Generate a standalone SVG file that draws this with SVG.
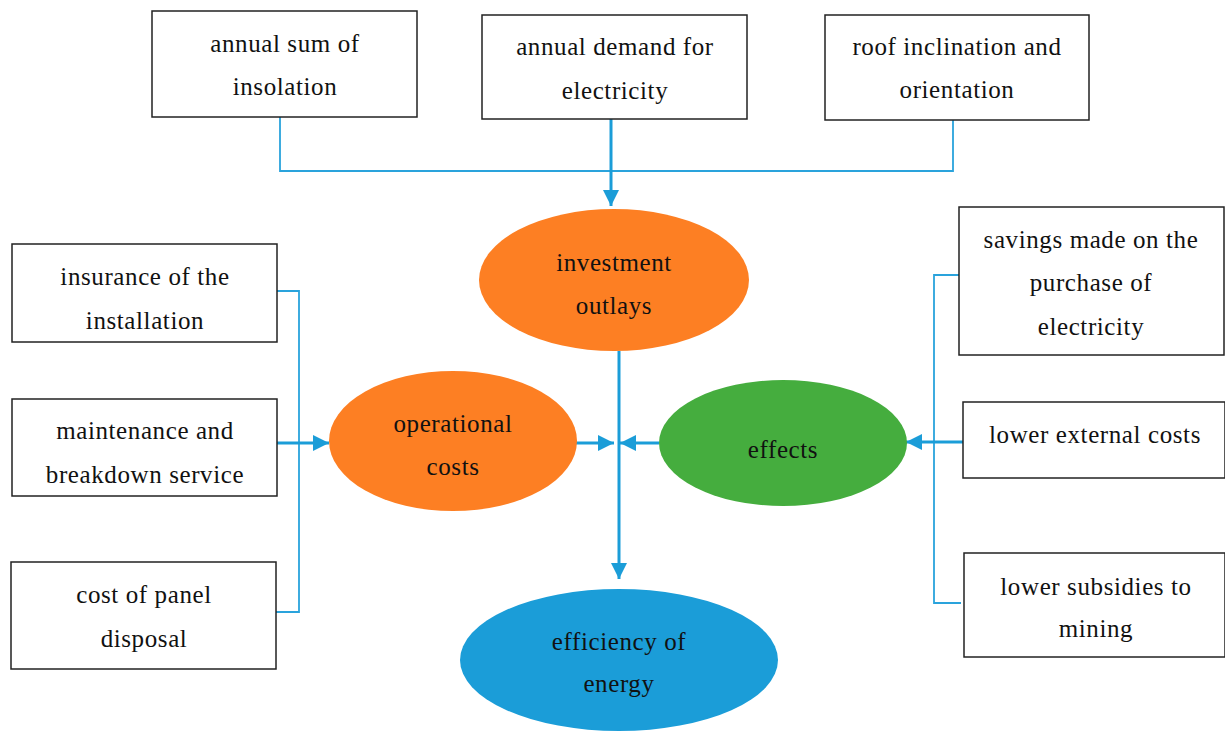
<svg xmlns="http://www.w3.org/2000/svg" width="1225" height="731" viewBox="0 0 1225 731">
<style>
.box{fill:#fff;stroke:#222;stroke-width:1.5}
.t{font-family:"Liberation Serif","DejaVu Serif",serif;font-size:25px;letter-spacing:0.6px;fill:#111;text-anchor:middle}
.thin{fill:none;stroke:#2aa3dc;stroke-width:1.8}
.thick{fill:none;stroke:#1b9dd8;stroke-width:3}
</style>
<defs>
<marker id="ah" markerUnits="userSpaceOnUse" markerWidth="18" markerHeight="18" refX="16" refY="9" orient="auto">
<path d="M0,1 L16,9 L0,17 Z" fill="#1b9dd8"/>
</marker>
</defs>
<rect width="1225" height="731" fill="#fff"/>
<g id="connectors">
<polyline class="thin" points="280,117 280,171 953,171 953,120"/>
<line class="thick" x1="611" y1="119" x2="611" y2="206" marker-end="url(#ah)"/>
<polyline class="thin" points="277,291 299,291 299,612 276,612"/>
<line class="thick" x1="277" y1="443" x2="329" y2="443" marker-end="url(#ah)"/>
<line class="thick" x1="619" y1="351" x2="619" y2="579" marker-end="url(#ah)"/>
<line class="thick" x1="573" y1="443" x2="614" y2="443" marker-end="url(#ah)"/>
<line class="thick" x1="659" y1="443" x2="620" y2="443" marker-end="url(#ah)"/>
<polyline class="thin" points="960,275 934,275 934,603 961,603"/>
<line class="thick" x1="963" y1="442" x2="906" y2="442" marker-end="url(#ah)"/>
</g>
<g id="n-insolation"><rect class="box" x="152" y="11" width="265" height="106"/><text class="t" x="285" y="52">annual sum of</text><text class="t" x="285" y="95">insolation</text></g>
<g id="n-demand"><rect class="box" x="482" y="15" width="265" height="104"/><text class="t" x="615" y="55">annual demand for</text><text class="t" x="615" y="99">electricity</text></g>
<g id="n-roof"><rect class="box" x="825" y="15" width="264" height="105"/><text class="t" x="957" y="55">roof inclination and</text><text class="t" x="957" y="98">orientation</text></g>
<g id="n-investment"><ellipse cx="614" cy="280" rx="135" ry="71" fill="#fd7f23"/><text class="t" x="614" y="271">investment</text><text class="t" x="614" y="314">outlays</text></g>
<g id="n-operational"><ellipse cx="453" cy="441" rx="124" ry="70" fill="#fd7f23"/><text class="t" x="453" y="432">operational</text><text class="t" x="453" y="475">costs</text></g>
<g id="n-effects"><ellipse cx="783" cy="443" rx="124" ry="63" fill="#45ad3e"/><text class="t" x="783" y="458">effects</text></g>
<g id="n-efficiency"><ellipse cx="619" cy="660" rx="159" ry="71" fill="#1b9dd8"/><text class="t" x="619" y="650">efficiency of</text><text class="t" x="619" y="692">energy</text></g>
<g id="n-insurance"><rect class="box" x="12" y="244" width="265" height="98"/><text class="t" x="145" y="285">insurance of the</text><text class="t" x="145" y="329">installation</text></g>
<g id="n-maintenance"><rect class="box" x="12" y="399" width="265" height="97"/><text class="t" x="145" y="439">maintenance and</text><text class="t" x="145" y="483">breakdown service</text></g>
<g id="n-disposal"><rect class="box" x="11" y="562" width="265" height="107"/><text class="t" x="144" y="603">cost of panel</text><text class="t" x="144" y="647">disposal</text></g>
<g id="n-savings"><rect class="box" x="959" y="207" width="265" height="148"/><text class="t" x="1091" y="248">savings made on the</text><text class="t" x="1091" y="291">purchase of</text><text class="t" x="1091" y="335">electricity</text></g>
<g id="n-external"><rect class="box" x="963" y="402" width="262" height="76"/><text class="t" x="1095" y="443">lower external costs</text></g>
<g id="n-subsidies"><rect class="box" x="964" y="553" width="261" height="104"/><text class="t" x="1096" y="595">lower subsidies to</text><text class="t" x="1096" y="637">mining</text></g>
</svg>
